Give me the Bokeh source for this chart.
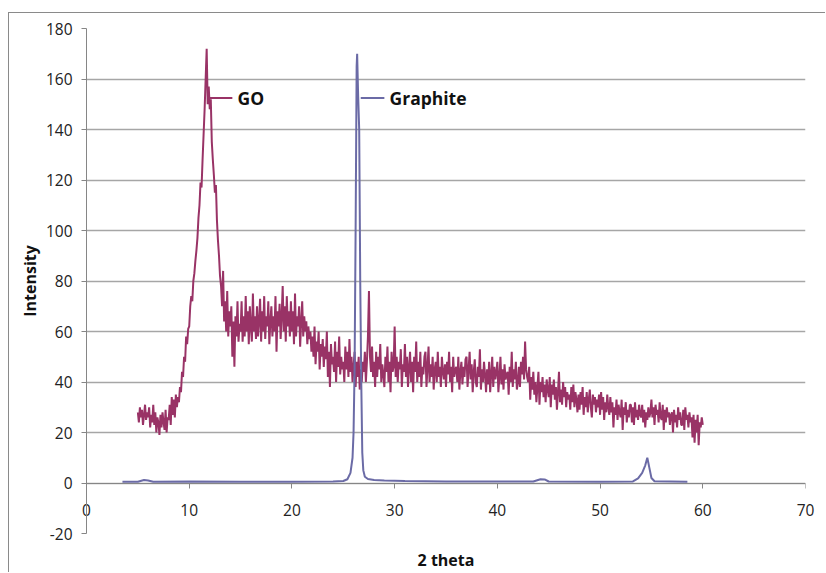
from bokeh.plotting import figure
from bokeh.models import FixedTicker, Range1d, Label, LinearAxis
from bokeh.embed import file_html
from bokeh.resources import INLINE

# ---------------- data ----------------
go_start = 5.0
go_step = 0.1
go_intensity = [
    28, 24, 30, 26, 29, 23, 27, 31, 25, 28,   # 5
    26, 30, 22, 27, 24, 31, 23, 28, 20, 26,   # 6
    24, 19, 27, 22, 28, 24, 21, 29, 20, 26,   # 7
    25, 31, 23, 34, 27, 33, 26, 35, 30, 34,   # 8
    32, 38, 36, 44, 42, 50, 48, 58, 55, 61,   # 9
    62, 70, 74, 72, 80, 83, 88, 92, 97, 105,  # 10
    110, 119, 117, 128, 138, 148, 160, 172, 150, 157,  # 11
    148, 152, 135, 128, 122, 115, 118, 104, 96, 90,    # 12
    82, 78, 70, 84, 64, 72, 60, 76, 58, 68,   # 13
    62, 70, 50, 64, 46, 66, 58, 72, 56, 63,   # 14
    60, 72, 56, 66, 58, 74, 60, 68, 55, 70,   # 15
    62, 56, 75, 60, 66, 57, 70, 58, 64, 73,   # 16
    56, 68, 60, 74, 57, 66, 62, 72, 55, 64,   # 17
    70, 58, 66, 60, 74, 52, 68, 62, 71, 57,   # 18
    66, 78, 60, 70, 56, 74, 62, 68, 58, 72,   # 19
    60, 68, 55, 75, 58, 66, 62, 70, 54, 64,   # 20
    72, 58, 66, 60, 64, 55, 62, 57, 60, 52,   # 21
    58, 50, 62, 47, 56, 52, 60, 45, 55, 50,   # 22
    57, 46, 54, 49, 60, 42, 52, 38, 55, 47,   # 23
    50, 44, 56, 40, 52, 46, 58, 43, 50, 45,   # 24
    48, 40, 54, 45, 52, 42, 57, 44, 50, 40,   # 25
    46, 52, 38, 48, 42, 50, 37, 45, 40, 48,   # 26
    44, 52, 40, 48, 58, 76, 50, 44, 54, 42,   # 27
    48, 38, 52, 42, 50, 45, 55, 40, 47, 43,   # 28
    38, 50, 44, 54, 40, 48, 36, 52, 44, 46,   # 29
    62, 42, 50, 40, 48, 45, 53, 38, 47, 44,   # 30
    55, 42, 50, 38, 46, 52, 40, 48, 36, 50,   # 31
    44, 56, 40, 48, 42, 52, 38, 46, 43, 50,   # 32
    52, 38, 46, 54, 40, 47, 42, 50, 37, 45,   # 33
    48, 40, 52, 42, 46, 38, 50, 44, 41, 47,   # 34
    38, 48, 43, 52, 40, 46, 36, 50, 42, 45,   # 35
    46, 40, 50, 37, 44, 48, 39, 46, 42, 49,   # 36
    50, 38, 45, 52, 41, 47, 36, 44, 49, 40,   # 37
    38, 46, 42, 53, 37, 45, 40, 48, 43, 36,   # 38
    45, 39, 48, 36, 43, 50, 38, 46, 41, 44,   # 39
    48, 36, 42, 50, 39, 45, 37, 47, 41, 43,   # 40
    44, 35, 46, 40, 52, 38, 45, 41, 48, 37,   # 41
    40, 46, 38, 48, 43, 50, 41, 56, 45, 42,   # 42
    40, 46, 33, 42, 37, 44, 35, 40, 32, 38,   # 43
    44, 31, 40, 36, 42, 34, 39, 32, 41, 37,   # 44
    34, 42, 30, 39, 35, 41, 33, 38, 29, 36,   # 45
    44, 32, 37, 31, 40, 34, 38, 30, 36, 33,   # 46
    35, 29, 38, 32, 39, 30, 36, 33, 28, 35,   # 47
    29, 36, 31, 38, 27, 34, 30, 36, 28, 33,   # 48
    37, 30, 26, 35, 31, 34, 28, 33, 30, 35,   # 49
    27, 36, 29, 34, 25, 32, 28, 35, 30, 27,   # 50
    34, 28, 32, 22, 30, 27, 33, 25, 31, 28,   # 51
    26, 33, 21, 30, 27, 32, 24, 29, 26, 31,   # 52
    31, 24, 30, 23, 32, 26, 29, 25, 31, 27,   # 53
    26, 31, 24, 29, 22, 28, 25, 30, 26, 28,   # 54
    33, 26, 30, 23, 31, 27, 29, 24, 32, 26,   # 55
    25, 31, 21, 29, 24, 30, 26, 28, 23, 27,   # 56
    28, 20, 29, 24, 27, 22, 30, 25, 28, 23,   # 57
    23, 29, 21, 30, 25, 27, 22, 28, 24, 26,   # 58
    18, 27, 16, 25, 20, 27, 15, 24, 22, 26,   # 59
    23,                                       # 60
]
go_theta = [round(go_start + go_step * i, 2) for i in range(len(go_intensity))]

graphite_theta = [3.5, 5.0, 5.6, 6.0, 6.5, 10.0, 15.0, 20.0, 24.0, 25.0, 25.4, 25.7,
                  25.9, 26.0, 26.1, 26.2, 26.3, 26.35, 26.45, 26.55, 26.65, 26.75,
                  26.85, 26.95, 27.1, 27.4, 28.0, 29.0, 31.0, 35.0, 43.5, 44.2,
                  44.6, 45.0, 50.0, 53.2, 53.7, 54.1, 54.4, 54.6, 54.8, 55.0, 55.3, 58.5]
graphite_intensity = [0.5, 0.5, 1.2, 1.0, 0.5, 0.6, 0.5, 0.5, 0.6, 0.8, 1.5, 4,
                      10, 20, 45, 100, 165, 170, 153, 140, 80, 40,
                      12, 5, 2.5, 1.6, 1.2, 1.0, 0.8, 0.6, 0.6, 1.5,
                      1.4, 0.6, 0.5, 0.6, 1.8, 4, 7, 10, 6, 2, 0.7, 0.5]

series_names = ["GO", "Graphite"]
series_colors = ["#993366", "#6b6ba6"]

x_ticks = [0, 10, 20, 30, 40, 50, 60, 70]
y_ticks = [-20, 0, 20, 40, 60, 80, 100, 120, 140, 160, 180]

# ---------------- figure ----------------
FONT = "Open Sans"
AXIS_COL = "#868686"
p = figure(width=817, height=560, x_range=Range1d(0, 70), y_range=Range1d(-20, 180),
           output_backend="svg", toolbar_location=None,
           min_border_left=77, min_border_right=21, min_border_top=15, min_border_bottom=40,
           styles={"margin-left": "8px", "margin-top": "12px",
                   "border-left": "1px solid #8a8a8a", "border-top": "1px solid #8a8a8a"})
p.outline_line_color = None
p.background_fill_color = "white"
p.border_fill_color = "white"

p.xgrid.visible = False
p.ygrid.ticker = FixedTicker(ticks=y_ticks)
p.ygrid.grid_line_color = "#a6a6a6"
p.ygrid.grid_line_width = 1.3

# y axis
ya = p.yaxis[0]
ya.ticker = FixedTicker(ticks=y_ticks)
ya.major_label_overrides = {t: str(t) for t in y_ticks}
ya.axis_label = "Intensity"
ya.axis_label_text_font = FONT
ya.axis_label_text_font_style = "bold"
ya.axis_label_text_font_size = "16px"
ya.axis_label_text_color = "#111111"
ya.axis_label_standoff = 2
ya.major_label_text_font = FONT
ya.major_label_text_font_size = "15.5px"
ya.major_label_text_color = "#222222"
ya.major_label_standoff = 9
ya.axis_line_color = AXIS_COL
ya.major_tick_line_color = AXIS_COL
ya.major_tick_in = 0
ya.major_tick_out = 5
ya.minor_tick_line_color = None

# x axis line and ticks crossing at y = 0 (labels come from a second axis)
xa = p.xaxis[0]
xa.fixed_location = 0
xa.ticker = FixedTicker(ticks=x_ticks)
xa.major_label_text_color = None
xa.major_label_text_font_size = "1px"
xa.major_label_standoff = 0
xa.axis_line_color = AXIS_COL
xa.major_tick_line_color = AXIS_COL
xa.major_tick_in = 0
xa.major_tick_out = 5
xa.minor_tick_line_color = None

xl = LinearAxis(ticker=FixedTicker(ticks=x_ticks))
xl.axis_line_color = None
xl.major_tick_line_color = None
xl.minor_tick_line_color = None
xl.major_tick_in = 0
xl.major_tick_out = 0
xl.major_label_standoff = -30
xl.major_label_text_font = FONT
xl.major_label_text_font_size = "15.5px"
xl.major_label_text_color = "#222222"
xl.axis_label = "2 theta"
xl.axis_label_text_font = FONT
xl.axis_label_text_font_style = "bold"
xl.axis_label_text_font_size = "16px"
xl.axis_label_text_color = "#111111"
xl.axis_label_standoff = 30
p.add_layout(xl, "below")

# series
p.line(go_theta, go_intensity, line_color=series_colors[0], line_width=2)
p.line(graphite_theta, graphite_intensity, line_color=series_colors[1], line_width=2)

# inline series labels with leader lines
go_peak_i = go_intensity.index(max(go_intensity))
gr_peak_i = graphite_intensity.index(max(graphite_intensity))
label_y = 152.5
leaders = [(go_theta[go_peak_i] + 0.2, series_colors[0], series_names[0]),
           (graphite_theta[gr_peak_i] + 0.35, series_colors[1], series_names[1])]
for x0, col, name in leaders:
    p.line([x0, x0 + 2.3], [label_y, label_y], line_color=col, line_width=2)
    p.add_layout(Label(x=x0 + 2.8, y=label_y, text=name, text_font=FONT,
                       text_font_style="bold", text_font_size="17.5px",
                       text_color="#111111", text_baseline="middle"))

open("out.html", "w").write(file_html(p, INLINE))
